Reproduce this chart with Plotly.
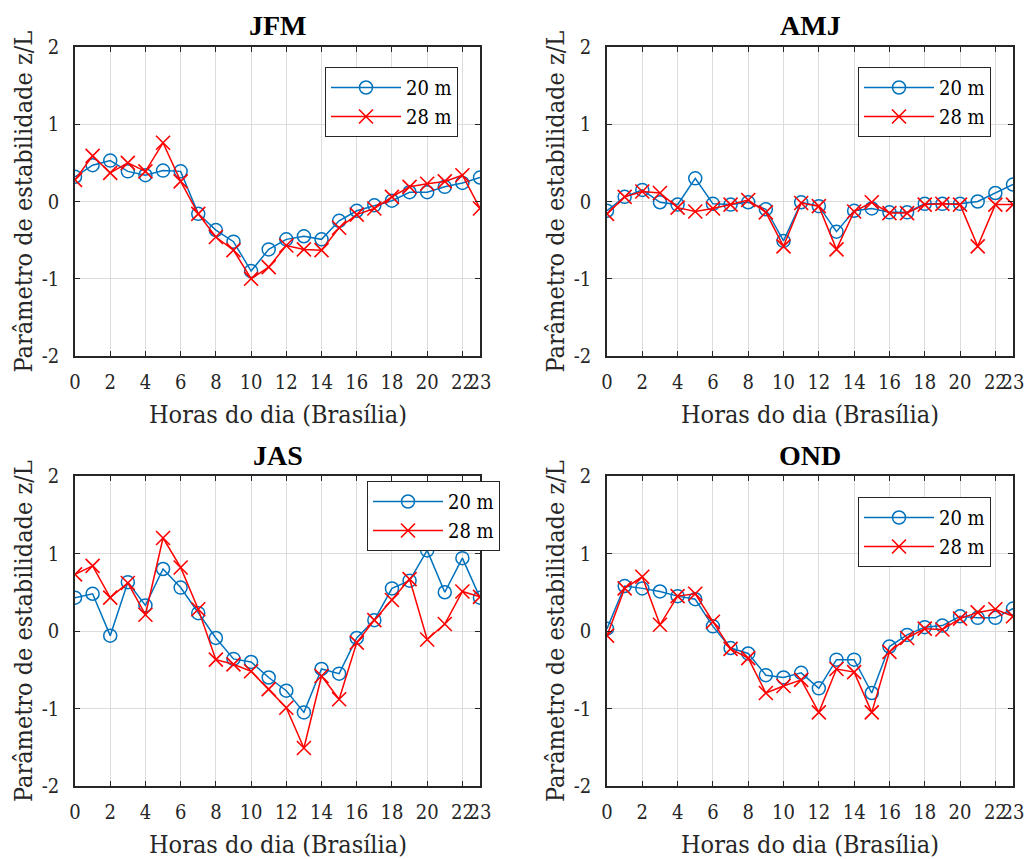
import plotly.graph_objects as go

hours = list(range(24))

titles = ["JFM", "AMJ", "JAS", "OND"]

jfm_20 = [0.32, 0.47, 0.53, 0.39, 0.34, 0.40, 0.39, -0.16, -0.37, -0.52, -0.90, -0.62,
          -0.49, -0.45, -0.49, -0.25, -0.12, -0.05, 0.01, 0.12, 0.12, 0.19, 0.24, 0.31]
jfm_28 = [0.28, 0.59, 0.37, 0.50, 0.39, 0.76, 0.26, -0.16, -0.46, -0.63, -1.00, -0.85,
          -0.57, -0.62, -0.63, -0.34, -0.17, -0.09, 0.06, 0.19, 0.23, 0.26, 0.34, -0.09]

amj_20 = [-0.12, 0.06, 0.15, -0.01, -0.04, 0.30, -0.03, -0.04, -0.01, -0.10, -0.51, -0.01,
          -0.06, -0.39, -0.12, -0.09, -0.14, -0.14, -0.03, -0.03, -0.03, 0.00, 0.11, 0.22]
amj_28 = [-0.16, 0.06, 0.13, 0.11, -0.08, -0.13, -0.09, -0.04, 0.02, -0.14, -0.58, -0.02,
          -0.06, -0.62, -0.13, -0.01, -0.15, -0.15, -0.04, -0.03, -0.04, -0.58, -0.04, -0.04]

jas_20 = [0.43, 0.48, -0.06, 0.63, 0.33, 0.80, 0.56, 0.23, -0.09, -0.36, -0.40, -0.60,
          -0.77, -1.05, -0.49, -0.55, -0.09, 0.14, 0.55, 0.65, 1.04, 0.50, 0.94, 0.43]
jas_28 = [0.73, 0.84, 0.43, 0.62, 0.21, 1.20, 0.82, 0.28, -0.37, -0.43, -0.52, -0.75,
          -0.99, -1.51, -0.58, -0.88, -0.15, 0.14, 0.40, 0.67, -0.11, 0.09, 0.51, 0.44]

ond_20 = [0.03, 0.58, 0.55, 0.51, 0.45, 0.41, 0.06, -0.22, -0.29, -0.57, -0.60, -0.54,
          -0.74, -0.37, -0.37, -0.80, -0.20, -0.05, 0.05, 0.07, 0.19, 0.17, 0.17, 0.29]
ond_28 = [-0.06, 0.55, 0.70, 0.08, 0.45, 0.48, 0.12, -0.23, -0.35, -0.80, -0.71, -0.63,
          -1.05, -0.49, -0.53, -1.05, -0.27, -0.09, 0.03, 0.02, 0.16, 0.24, 0.28, 0.19]

series_20 = [jfm_20, amj_20, jas_20, ond_20]
series_28 = [jfm_28, amj_28, jas_28, ond_28]

x_tickvals = [0, 2, 4, 6, 8, 10, 12, 14, 16, 18, 20, 22, 23]
x_ticktext = [str(v) for v in x_tickvals]
y_tickvals = [-2, -1, 0, 1, 2]
y_ticktext = ["-2", "-1", "0", "1", "2"]

name_20 = "20 m"
name_28 = "28 m"
x_title = "Horas do dia (Brasília)"
y_title = "Parâmetro de estabilidade z/L"

W, H = 1027, 859
FONT = "DejaVu Serif Condensed"
FONT_B = "Liberation Serif"
BLUE = "#0072BD"
RED = "#FF0000"
AXC = "#262626"

# pixel boxes of each axes: (left, right, top, bottom)
boxes = [(75, 480, 47, 356), (607, 1013, 47, 356), (75, 480, 476, 786), (607, 1013, 476, 786)]
# legend top-left positions in pixels
leg_pos = [(325, 67), (858, 67), (367, 481), (858, 497)]

fig = go.Figure()
annotations = []
for i in range(4):
    l, r, t, b = boxes[i]
    xa = "x" if i == 0 else f"x{i+1}"
    ya = "y" if i == 0 else f"y{i+1}"
    lg = "legend" if i == 0 else f"legend{i+1}"
    fig.add_trace(go.Scatter(
        x=hours, y=series_20[i], mode="lines+markers", name=name_20,
        line=dict(color=BLUE, width=1.5),
        marker=dict(symbol="circle-open", size=13, color=BLUE, line=dict(width=1.5)),
        xaxis=xa, yaxis=ya, legend=lg))
    fig.add_trace(go.Scatter(
        x=hours, y=series_28[i], mode="lines+markers", name=name_28,
        line=dict(color=RED, width=1.5),
        marker=dict(symbol="x-thin-open", size=14, color=RED, line=dict(width=1.6, color=RED)),
        xaxis=xa, yaxis=ya, legend=lg))

    axkw = dict(showline=True, linecolor=AXC, linewidth=1.6, mirror="ticks",
                ticks="inside", ticklen=5, tickwidth=1.2, tickcolor=AXC,
                showgrid=True, gridcolor="#dcdcdc", gridwidth=1, zeroline=False,
                automargin=False, tickangle=0,
                tickfont=dict(family=FONT, size=20, color=AXC))
    fig.layout[("xaxis" if i == 0 else f"xaxis{i+1}")] = dict(
        domain=[l / W, r / W], range=[0, 23], anchor=ya,
        tickmode="array", tickvals=x_tickvals, ticktext=x_ticktext, ticklabelstandoff=7, **axkw)
    fig.layout[("yaxis" if i == 0 else f"yaxis{i+1}")] = dict(
        domain=[1 - b / H, 1 - t / H], range=[-2, 2], anchor=xa,
        tickmode="array", tickvals=y_tickvals, ticktext=y_ticktext, ticklabelstandoff=10, **axkw)

    lx, ly = leg_pos[i]
    fig.layout[lg] = dict(
        x=lx / W, y=1 - ly / H, xanchor="left", yanchor="top",
        xref="paper", yref="paper",
        bgcolor="white", bordercolor=AXC, borderwidth=1,
        font=dict(family=FONT, size=20, color="black"),
        itemwidth=70, tracegroupgap=0)

    cx = (l + r) / 2
    annotations.append(dict(text=f"<b>{titles[i]}</b>", x=cx / W, y=1 - (t - 21) / H,
                            xref="paper", yref="paper", xanchor="center", yanchor="middle",
                            showarrow=False, font=dict(family=FONT_B, size=28, color="black")))
    annotations.append(dict(text=x_title, x=cx / W, y=1 - (b + 58) / H,
                            xref="paper", yref="paper", xanchor="center", yanchor="middle",
                            showarrow=False, font=dict(family=FONT, size=25, color=AXC)))
    annotations.append(dict(text=y_title, x=(l - 52) / W, y=1 - ((t + b) / 2) / H,
                            xref="paper", yref="paper", xanchor="center", yanchor="middle",
                            textangle=-90,
                            showarrow=False, font=dict(family=FONT, size=25, color=AXC)))

fig.update_layout(width=W, height=H, margin=dict(l=0, r=0, t=0, b=0),
                  template="none",
                  paper_bgcolor="white", plot_bgcolor="white",
                  annotations=annotations, font=dict(family=FONT))
fig.write_html("out.html")
